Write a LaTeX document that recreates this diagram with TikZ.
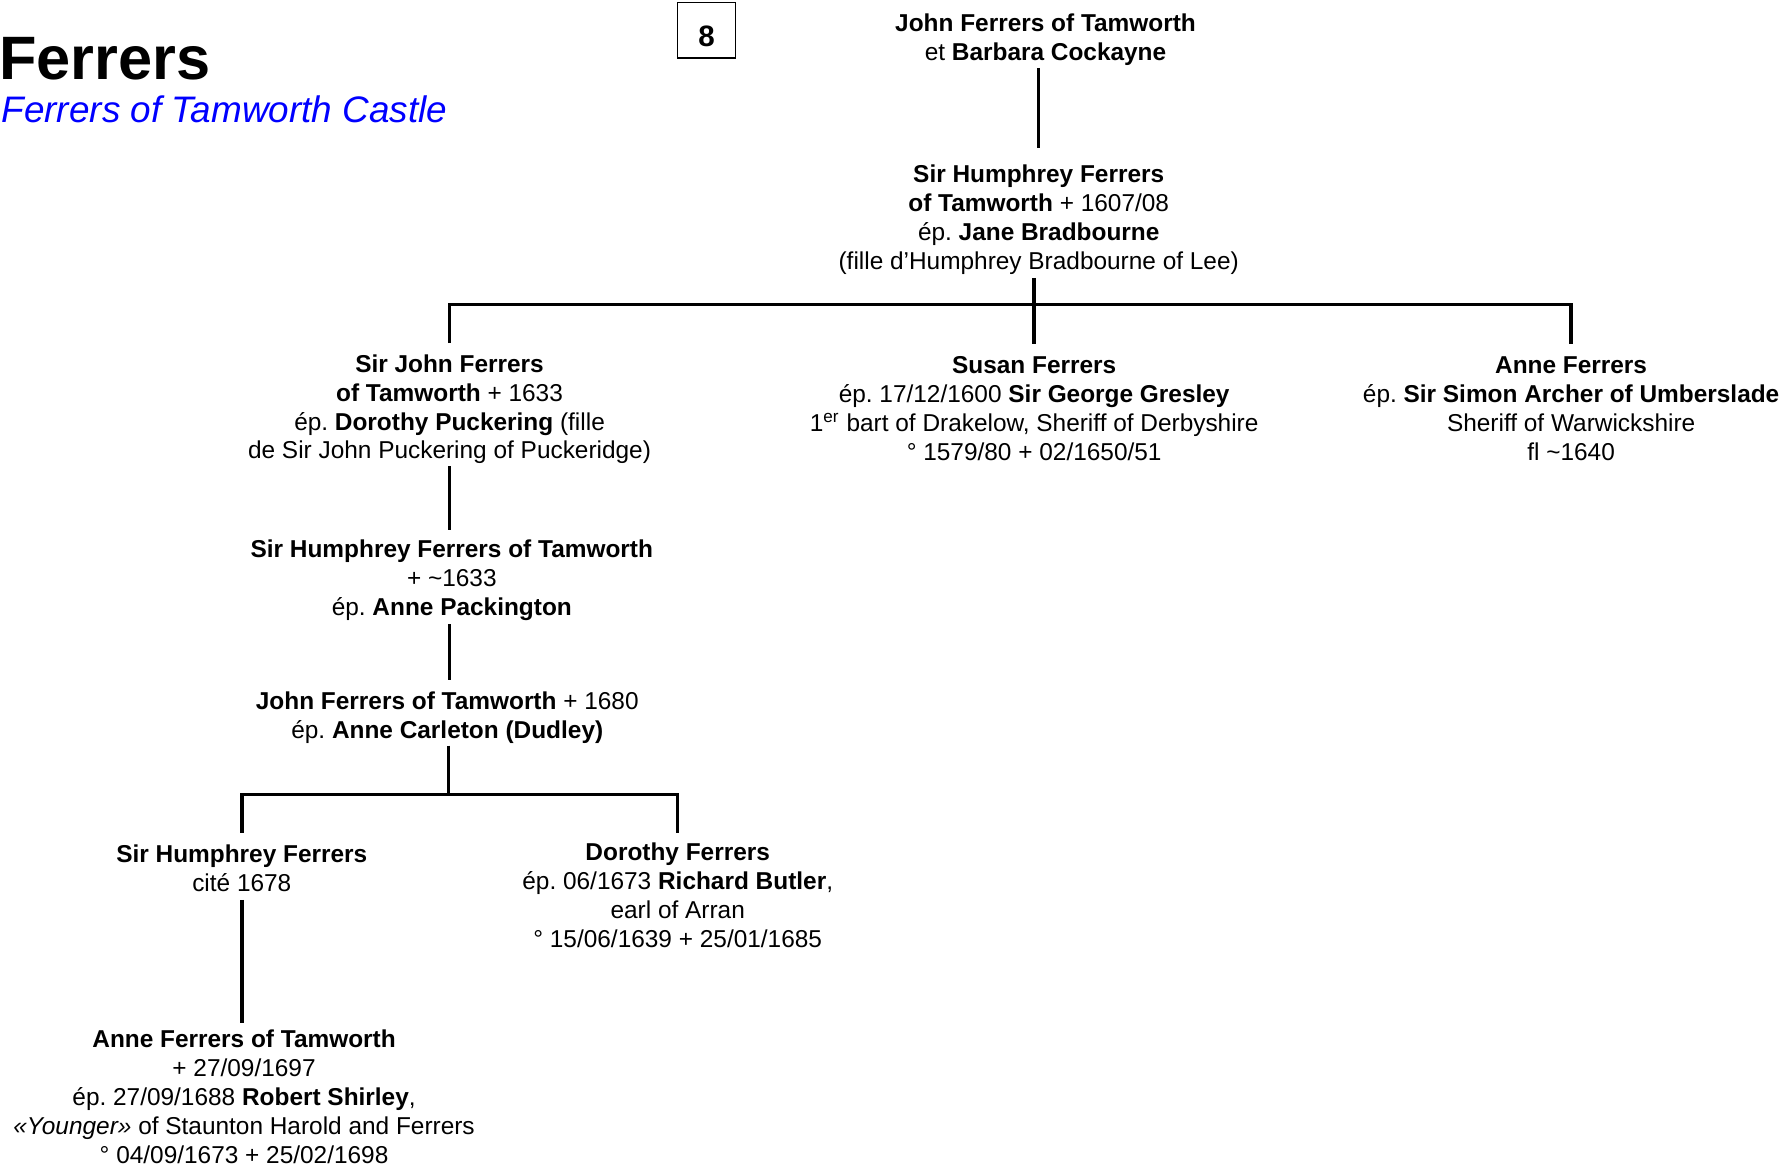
\documentclass[tikz,border=0pt]{standalone}
\usepackage{fontspec}
\setmainfont{Liberation Sans}
\frenchspacing
\begin{document}
\begin{tikzpicture}[x=0.5pt,y=-0.5pt,
  person/.style={align=center, inner sep=0pt, outer sep=0pt, font=\fontsize{10.75}{12.75}\selectfont},
  conn/.style={line width=1.5pt}]
\useasboundingbox (0,0) rectangle (1568,1028);
% titles
\node[anchor=base west, inner sep=0pt, font=\bfseries\fontsize{27}{30}\selectfont] (title) at (-1,70) {Ferrers};
\node[anchor=base west, inner sep=0pt, text=blue, font=\itshape\fontsize{16.25}{19}\selectfont] (subtitle) at (1,108) {Ferrers of Tamworth Castle};
\node[draw, line width=0.6pt, inner sep=0pt, minimum width=25.5pt, minimum height=24.5pt, font=\bfseries\fontsize{13}{15}\selectfont] (num) at (622.5,26.5) {\raisebox{-7.4pt}[0pt][0pt]{8}};
% persons
\node[person] (top) at (921,35) {\textbf{John Ferrers of Tamworth}\\et \textbf{Barbara Cockayne}};
\node[person] (n2) at (915,193.5) {\textbf{Sir Humphrey Ferrers}\\\textbf{of Tamworth} + 1607/08\\ép. \textbf{Jane Bradbourne}\\(fille d’Humphrey Bradbourne of Lee)};
\node[person] (sirjohn) at (396,360.5) {\textbf{Sir John Ferrers}\\\textbf{of Tamworth} + 1633\\ép. \textbf{Dorothy Puckering} (fille\\de Sir John Puckering of Puckeridge)};
\node[person] (susan) at (911,360) {\textbf{Susan Ferrers}\\ép. 17/12/1600 \textbf{Sir George Gresley}\\1\textsuperscript{er} bart of Drakelow, Sheriff of Derbyshire\\° 1579/80 + 02/1650/51};
\node[person] (anner) at (1384,360) {\textbf{Anne Ferrers}\\ép. \textbf{Sir Simon Archer of Umberslade}\\Sheriff of Warwickshire\\fl \textasciitilde1640};
\node[person] (sirhum2) at (398,511.5) {\textbf{Sir Humphrey Ferrers of Tamworth}\\+ \textasciitilde1633\\ép. \textbf{Anne Packington}};
\node[person] (john1680) at (394,632) {\textbf{John Ferrers of Tamworth} + 1680\\ép. \textbf{Anne Carleton (Dudley)}};
\node[person] (sirhum3) at (213,765) {\textbf{Sir Humphrey Ferrers}\\cité 1678};
\node[person] (dorothy) at (597,789) {\textbf{Dorothy Ferrers}\\ép. 06/1673 \textbf{Richard Butler},\\earl of Arran\\° 15/06/1639 + 25/01/1685};
\node[person] (annet) at (215,966) {\textbf{Anne Ferrers of Tamworth}\\+ 27/09/1697\\ép. 27/09/1688 \textbf{Robert Shirley},\\\textit{«Younger»} of Staunton Harold and Ferrers\\° 04/09/1673 + 25/02/1698};
% junctions
\coordinate (j1) at (911,268);
\coordinate (j2) at (395,700);
% connectors
\draw[conn, shorten <=1pt, shorten >=7.5pt] (top.south -| n2.north) -- (n2.north);
\draw[conn, shorten <=5pt, shorten >=5.5pt] (sirjohn.north) -- (sirjohn.north |- j1) -- (anner.north |- j1) -- (anner.north);
\draw[conn, shorten <=1.5pt, shorten >=5.5pt] (n2.south -| susan.north) -- (susan.north);
\draw[conn, shorten <=1pt, shorten >=4.5pt] (sirjohn.south) -- (sirjohn.south |- sirhum2.north);
\draw[conn, shorten <=1.5pt, shorten >=5pt] (sirhum2.south -| sirjohn.south) -- (sirjohn.south |- john1680.north);
\draw[conn, shorten <=1pt] (john1680.south -| j2) -- (j2);
\draw[conn, shorten <=5.5pt, shorten >=4.5pt] (sirhum3.north) -- (sirhum3.north |- j2) -- (dorothy.north |- j2) -- (dorothy.north);
\draw[conn, shorten <=3.5pt, shorten >=3pt] (sirhum3.south) -- (sirhum3.south |- annet.north);
\end{tikzpicture}
\end{document}
